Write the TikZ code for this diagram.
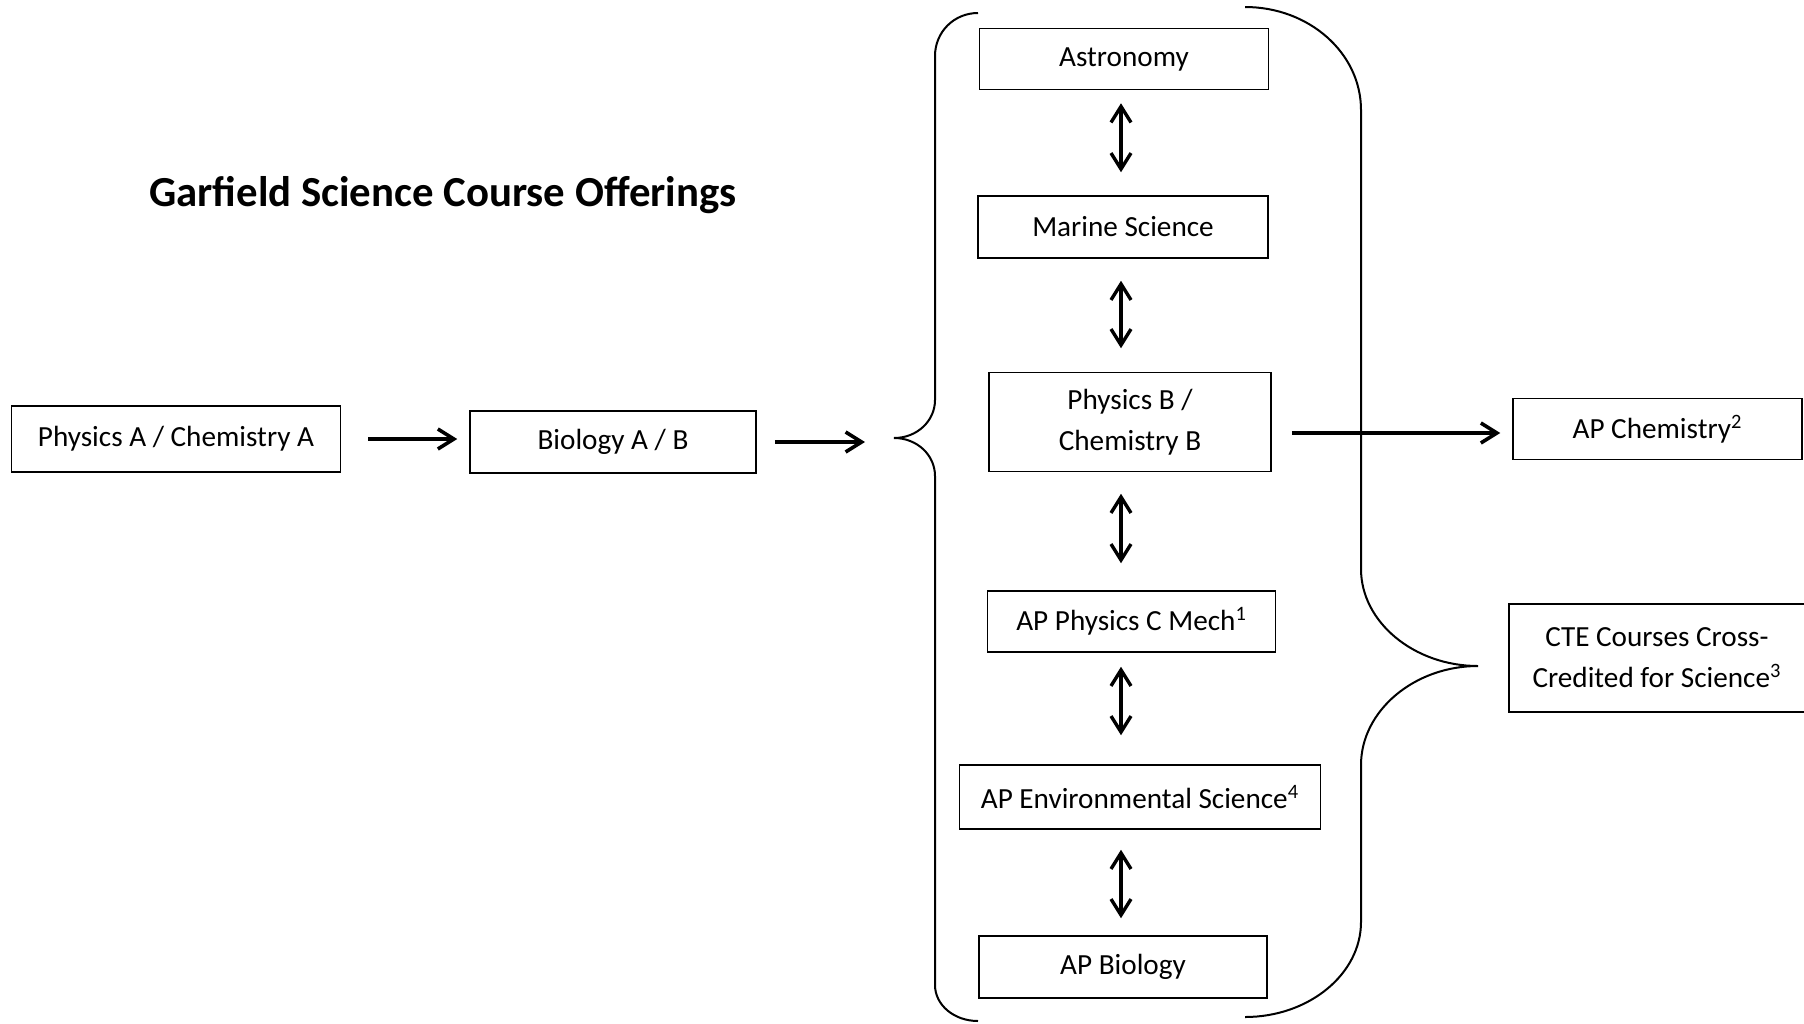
\documentclass[tikz,border=0pt]{standalone}
\usepackage{fontspec}
\setmainfont{Carlito}
\usetikzlibrary{arrows.meta}
\begin{document}
\begin{tikzpicture}[x=0.5pt,y=-0.5pt,
  box/.style={draw, line width=0.75pt, inner sep=0pt, align=center,
    font=\fontsize{14.6}{20.5}\selectfont},
  harr/.style={line width=1.8pt, -{Straight Barb[length=8pt,width=10pt]}},
  darr/.style={line width=1.7pt, {Straight Barb[length=8pt,width=10pt]}-{Straight Barb[length=8pt,width=10pt]}},
  brace/.style={line width=1pt}]
\useasboundingbox (0,0) rectangle (1804,1023);
\node[anchor=base, font=\bfseries\fontsize{21.4}{25}\selectfont] (title) at (443,206) {Garfield Science Course Offerings};
\node[box, minimum width=164.5pt, minimum height=33pt] (physA) at (176,439) {Physics A / Chemistry A};
\node[box, minimum width=143pt, minimum height=31pt] (bio) at (613,442) {Biology A / B};
\node[box, minimum width=144.5pt, minimum height=30.5pt] (astro) at (1124,59) {Astronomy};
\node[box, minimum width=145pt, minimum height=31pt] (marine) at (1123,227) {Marine Science};
\node[box, minimum width=141pt, minimum height=49.5pt] (physB) at (1130,422) {Physics B /\\Chemistry B};
\node[box, minimum width=144.5pt, minimum height=30.5pt] (apchem) at (1657.5,429) {AP Chemistry\textsuperscript{2}};
\node[box, minimum width=144pt, minimum height=30.5pt] (apphys) at (1131.6,621.5) {AP Physics C Mech\textsuperscript{1}};
\node[box, minimum width=180.5pt, minimum height=32pt] (apenv) at (1140,797) {AP Environmental Science\textsuperscript{4}};
\node[box, minimum width=144pt, minimum height=31pt] (apbio) at (1123,967) {AP Biology};
\node[box, minimum width=148pt, minimum height=54pt] (cte) at (1657,658) {CTE Courses Cross-\\Credited for Science\textsuperscript{3}};
% braces
\coordinate (tipL) at (894,438);
\coordinate (tipR) at (1478,666);
\coordinate (ax) at (1121,0);
\draw[brace] (978,13) .. controls (954,13) and (935,32) .. (935,56)
  -- (935,400) .. controls (935,421) and (917,438) .. (tipL)
  .. controls (917,438) and (935,455) .. (935,476)
  -- (935,985) .. controls (935,1005) and (954,1021) .. (978,1021);
\draw[brace] (1245,7) .. controls (1309,7) and (1361,53) .. (1361,110)
  -- (1361,569) .. controls (1361,622) and (1414,666) .. (tipR)
  .. controls (1414,666) and (1361,711) .. (1361,765)
  -- (1361,922) .. controls (1361,974) and (1309,1017) .. (1245,1017);
% horizontal arrows
\draw[harr, shorten <=13.5pt, shorten >=6pt] (physA.east) -- (physA.east -| bio.west);
\draw[harr, shorten <=9pt, shorten >=14.5pt] (bio.east) -- (bio.east -| tipL);
\draw[harr, shorten <=10pt, shorten >=6pt] ([yshift=-2pt]physB.east |- apchem.west) -- ([yshift=-2pt]apchem.west);
% double arrows
\draw[darr, shorten <=6.5pt, shorten >=11.5pt] (astro.south -| ax) -- (marine.north -| ax);
\draw[darr, shorten <=11pt, shorten >=11.75pt] (marine.south -| ax) -- (physB.north -| ax);
\draw[darr, shorten <=10.75pt, shorten >=13.5pt] (physB.south -| ax) -- (apphys.north -| ax);
\draw[darr, shorten <=7pt, shorten >=14.5pt] (apphys.south -| ax) -- (apenv.north -| ax);
\draw[darr, shorten <=10pt, shorten >=8.5pt] (apenv.south -| ax) -- (apbio.north -| ax);
\end{tikzpicture}
\end{document}
